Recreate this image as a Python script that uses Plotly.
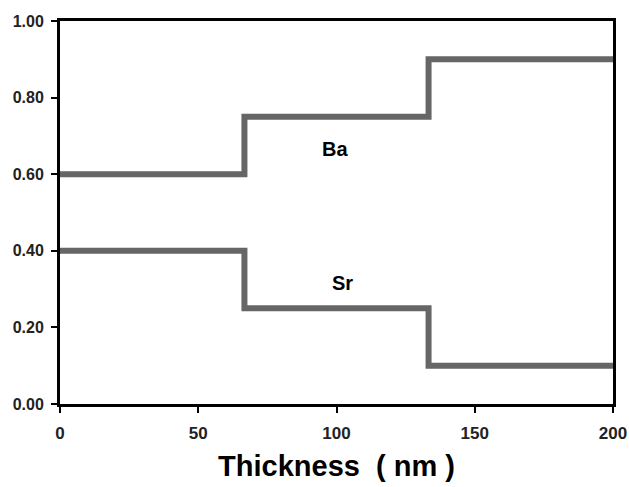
import plotly.graph_objects as go

thickness = [0, 66.7, 133.3, 200]
ba = [0.60, 0.75, 0.90, 0.90]
sr = [0.40, 0.25, 0.10, 0.10]
labels = ["Ba", "Sr"]
label_x = [99.5, 102]
label_y = [0.665, 0.315]

fig = go.Figure()
for y in (ba, sr):
    fig.add_trace(go.Scatter(x=thickness, y=y, mode="lines", line_shape="hv",
                             line=dict(color="#666666", width=6), showlegend=False))

for t, xx, yy in zip(labels, label_x, label_y):
    fig.add_annotation(x=xx, y=yy, text=t, showarrow=False,
                       font=dict(family="Arial, Liberation Sans", size=20, color="black", weight="bold"))

fig.update_layout(
    width=629, height=487,
    margin=dict(l=60, r=16, t=21, b=83),
    paper_bgcolor="white", plot_bgcolor="white",
    xaxis=dict(range=[0, 200], tickvals=[0, 50, 100, 150, 200], showgrid=False, zeroline=False,
               automargin=False,
               showline=True, linecolor="black", linewidth=3, mirror=True,
               ticks="outside", ticklen=6, tickcolor="black", tickwidth=1.5,
               ticklabelstandoff=6,
               tickfont=dict(family="Arial, Liberation Sans", size=17, color="#222", weight="bold"),
               title=dict(text="Thickness \u00a0( nm )", standoff=14,
                          font=dict(family="Arial, Liberation Sans", size=29, color="black", weight="bold"))),
    yaxis=dict(range=[0, 1], tickvals=[0, 0.2, 0.4, 0.6, 0.8, 1.0], tickformat=".2f",
               showgrid=False, zeroline=False, automargin=False,
               showline=True, linecolor="black", linewidth=3, mirror=True,
               ticks="outside", ticklen=6, tickcolor="black", tickwidth=1.5,
               ticklabelstandoff=4,
               tickfont=dict(family="Arial, Liberation Sans", size=16, color="#222", weight="bold")),
)
fig.write_html("out.html")
